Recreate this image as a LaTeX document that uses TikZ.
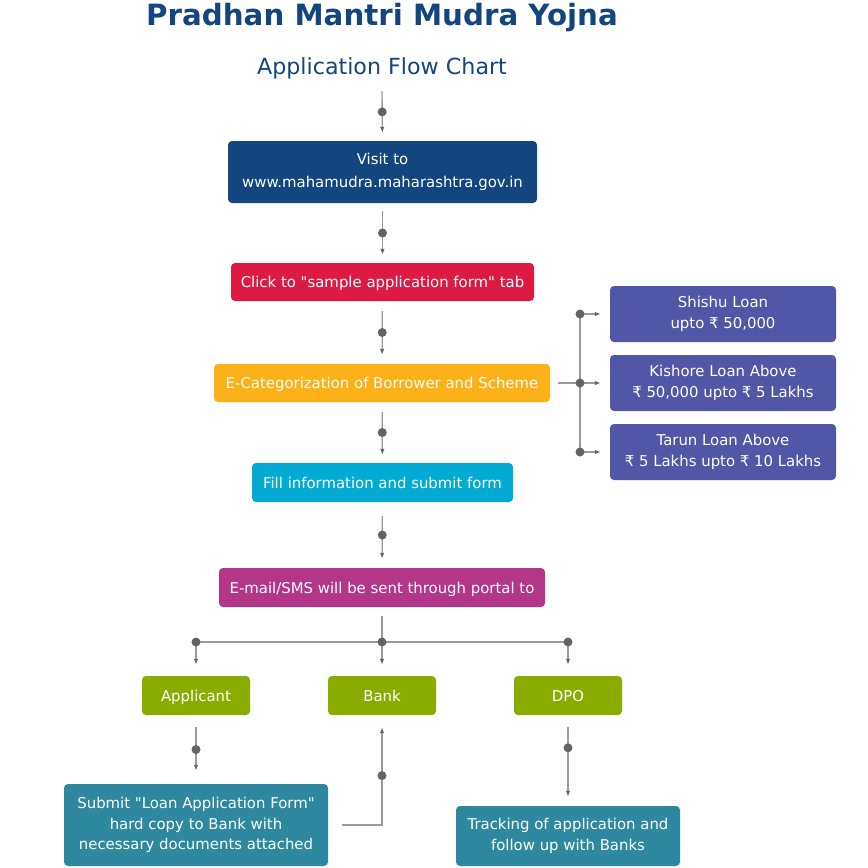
\documentclass[tikz,border=0pt]{standalone}
\usepackage{fontspec}
\setmainfont{DejaVu Sans}
\usetikzlibrary{arrows.meta}
\tikzset{>={Latex[length=6pt,width=4.5pt]}}
\definecolor{navy}{HTML}{13457F}
\definecolor{crimson}{HTML}{DC1A42}
\definecolor{amber}{HTML}{FBB117}
\definecolor{indigo}{HTML}{5157A6}
\definecolor{sky}{HTML}{02AAD4}
\definecolor{plum}{HTML}{B33689}
\definecolor{olive}{HTML}{8AAB00}
\definecolor{teal}{HTML}{2E89A0}
\definecolor{linegray}{HTML}{9A9A9A}
\definecolor{dotgray}{HTML}{636363}

\begin{document}
\begin{tikzpicture}[x=1pt,y=-1pt,
  box/.style={rounded corners=4pt, text=white, align=center, inner sep=0pt,
    font=\fontsize{14.9}{20.5}\selectfont},
  oneline/.style={box, text height=11pt, text depth=0pt},
  link/.style={draw=linegray, line width=1.3pt, >={Latex[length=6pt,width=4.5pt,color=dotgray]}},
  dot/.style={circle, fill=dotgray, minimum size=9pt, inner sep=0pt}]
  \useasboundingbox (0,0) rectangle (868,868);
  % heading
  \node[navy, font=\bfseries\fontsize{29.3}{32}\selectfont] (title) at (382,18) {Pradhan Mantri Mudra Yojna};
  \node[navy, font=\fontsize{22.2}{25}\selectfont] (sub) at (382,68) {Application Flow Chart};
  % main column
  \node[box, fill=navy, minimum width=309pt, minimum height=62pt] (visit) at (382.5,172)
    {Visit to\\[2.5pt]www.mahamudra.maharashtra.gov.in};
  \node[oneline, fill=crimson, minimum width=303pt, minimum height=38pt] (click) at (382.5,282)
    {Click to \textquotedbl sample application form\textquotedbl\ tab};
  \node[oneline, fill=amber, minimum width=336pt, minimum height=38pt] (categ) at (382,383)
    {E-Categorization of Borrower and Scheme};
  \node[oneline, fill=sky, minimum width=261pt, minimum height=39pt] (fill) at (382.5,482.5)
    {Fill information and submit form};
  \node[oneline, fill=plum, minimum width=326pt, minimum height=39pt] (mail) at (382,587.5)
    {E-mail/SMS will be sent through portal to};
  % loan schemes
  \node[box, fill=indigo, minimum width=226pt, minimum height=56pt] (shishu) at (723,314)
    {Shishu Loan\\upto ₹ 50,000};
  \node[box, fill=indigo, minimum width=226pt, minimum height=56pt] (kishore) at (723,383)
    {Kishore Loan Above\\₹ 50,000 upto ₹ 5 Lakhs};
  \node[box, fill=indigo, minimum width=226pt, minimum height=56pt] (tarun) at (723,452)
    {Tarun Loan Above\\₹ 5 Lakhs upto ₹ 10 Lakhs};
  % receivers
  \node[oneline, fill=olive, minimum width=108pt, minimum height=39pt] (applicant) at (196,695.5) {Applicant};
  \node[oneline, fill=olive, minimum width=108pt, minimum height=39pt] (bank) at (382,695.5) {Bank};
  \node[oneline, fill=olive, minimum width=108pt, minimum height=39pt] (dpo) at (568,695.5) {DPO};
  \node[box, fill=teal, minimum width=264pt, minimum height=82pt] (submit) at (196,825)
    {Submit \textquotedbl Loan Application Form\textquotedbl\\hard copy to Bank with\\necessary documents attached};
  \node[box, fill=teal, minimum width=224pt, minimum height=60pt] (track) at (568,836)
    {Tracking of application and\\follow up with Banks};
  % down the column
  \coordinate (start) at (382,83);
  \draw[link,->,shorten <=8pt,shorten >=8pt] (start) -- node[dot]{} (visit);
  \draw[link,->,shorten <=8pt,shorten >=8pt] (visit) -- node[dot]{} (click);
  \draw[link,->,shorten <=10pt,shorten >=9pt] (click) -- node[dot]{} (categ);
  \draw[link,->,shorten <=10pt,shorten >=8pt] (categ) -- node[dot]{} (fill);
  \draw[link,->,shorten <=14pt,shorten >=9pt] (fill) -- node[dot]{} (mail);
  % schemes branch
  \coordinate (rb) at (580,383);
  \draw[link,shorten <=8pt] (categ) -- (rb);
  \draw[link] (rb |- shishu) -- (rb |- tarun);
  \foreach \n in {shishu,kishore,tarun} {
    \draw[link,->,shorten >=9pt] (rb |- \n) -- (\n);
    \node[dot] at (rb |- \n) {};
  }
  % receivers branch
  \coordinate (bus) at (382,642);
  \draw[link,shorten <=9pt] (mail) -- (bus);
  \draw[link] (bus -| applicant) -- (bus -| dpo);
  \foreach \n in {applicant,bank,dpo} {
    \draw[link,->,shorten >=11pt] (bus -| \n) -- (\n);
    \node[dot] at (bus -| \n) {};
  }
  % after the receivers
  \draw[link,->,shorten <=12pt,shorten >=13pt] (applicant) -- node[dot]{} (submit);
  \draw[link,->,shorten <=14pt,shorten >=12pt] (submit.east) -- (submit.east -| bank)
    -- node[dot,pos=0.45]{} (bank);
  \draw[link,->,shorten <=12pt,shorten >=9pt] (dpo) -- node[dot,pos=0.36]{} (track);
\end{tikzpicture}
\end{document}
